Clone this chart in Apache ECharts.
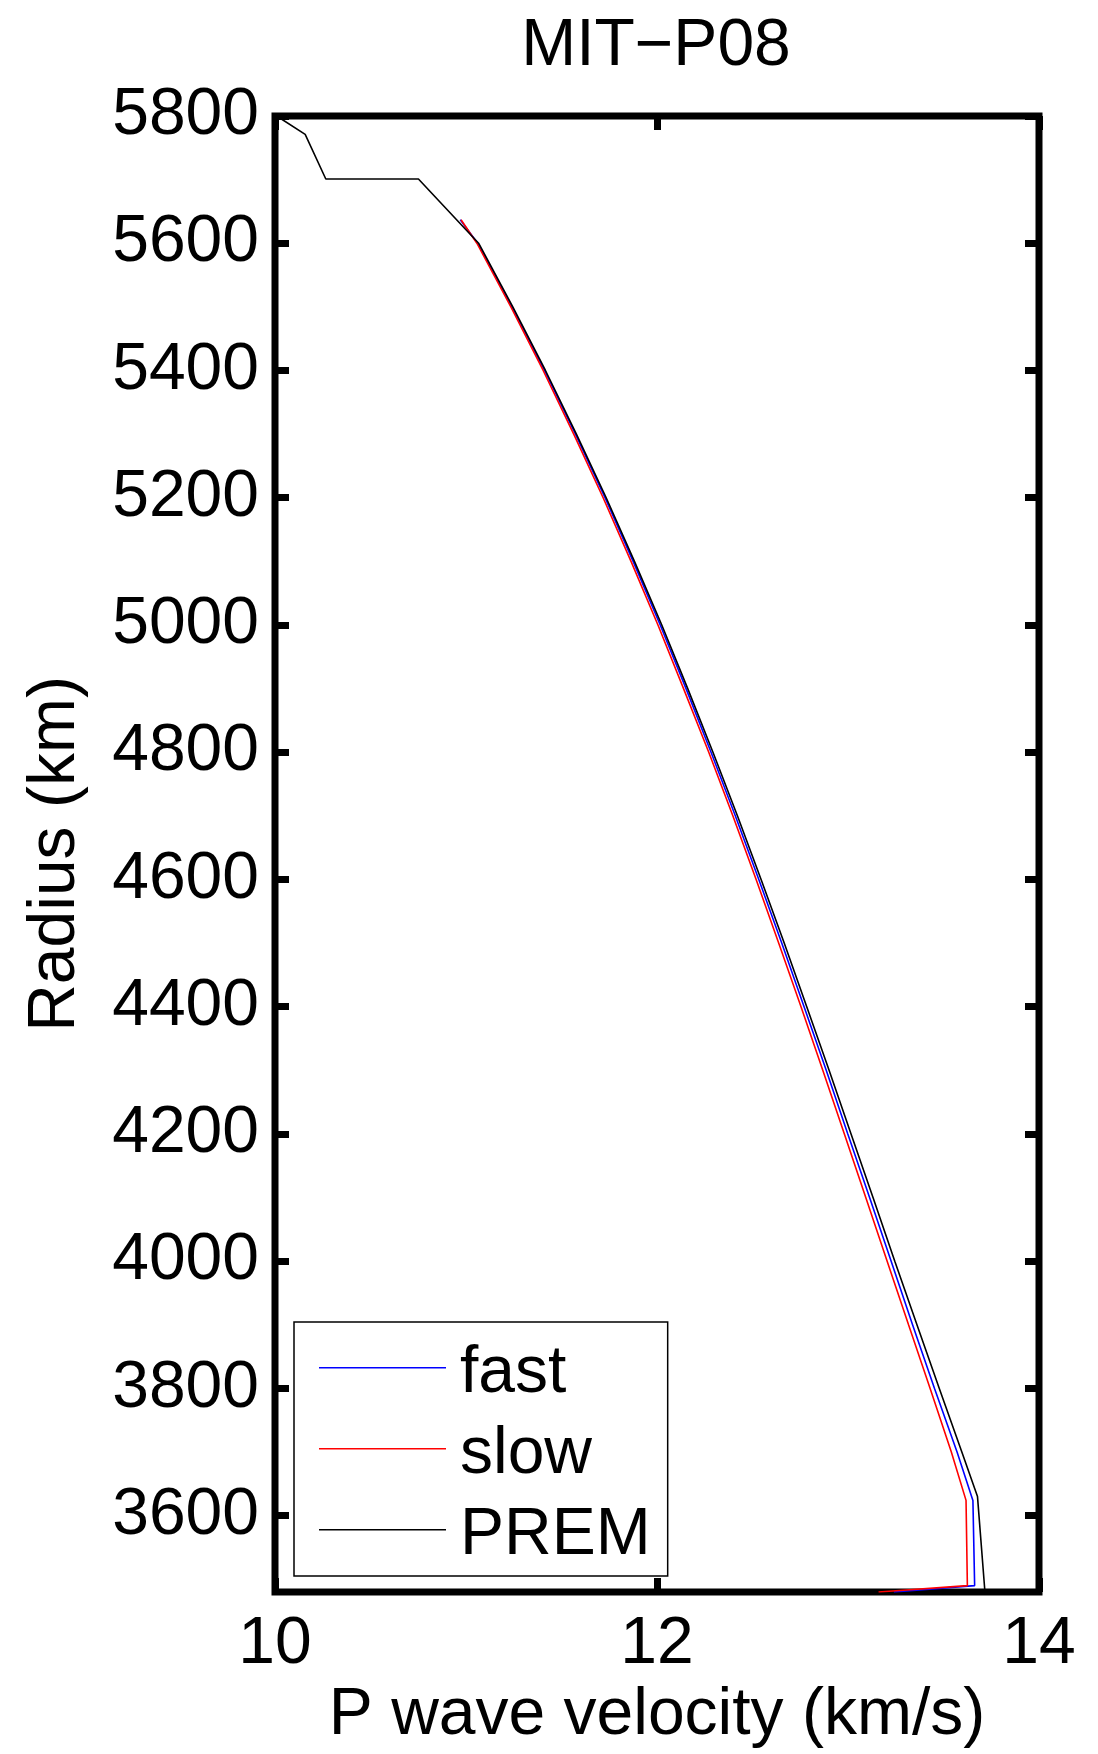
<!DOCTYPE html>
<html>
<head>
<meta charset="utf-8">
<script src="https://cdn.jsdelivr.net/npm/echarts@6/dist/echarts.min.js"></script>
<style>
html,body{margin:0;padding:0;background:#fff;}
#chart{width:1098px;height:1754px;}
</style>
</head>
<body>
<div id="chart"></div>
<script>
const titleText = 'MIT\u2212P08';
const xTicks = [10, 12, 14];
const yTicks = [3600, 3800, 4000, 4200, 4400, 4600, 4800, 5000, 5200, 5400, 5600, 5800];

const radiusPREM = [5800, 5771, 5701, 5701, 5600, 5500, 5400, 5300, 5200, 5100, 5000, 4900, 4800, 4700, 4600, 4500, 4400, 4300, 4200, 4100, 4000, 3900, 3800, 3700, 3630, 3480];
const vpPREM = [10.009, 10.158, 10.266, 10.751, 11.066, 11.245, 11.416, 11.578, 11.734, 11.882, 12.025, 12.161, 12.293, 12.421, 12.545, 12.666, 12.784, 12.901, 13.016, 13.131, 13.245, 13.361, 13.478, 13.596, 13.678, 13.717];

const radiusModel = [5637, 5600, 5500, 5400, 5300, 5200, 5100, 5000, 4900, 4800, 4700, 4600, 4500, 4400, 4300, 4200, 4100, 4000, 3900, 3800, 3700, 3624, 3490, 3480];
const vpFast = [10.970, 11.061, 11.241, 11.411, 11.573, 11.728, 11.875, 12.017, 12.152, 12.283, 12.410, 12.533, 12.653, 12.770, 12.886, 12.999, 13.113, 13.226, 13.338, 13.453, 13.571, 13.654, 13.663, 13.24];
const vpSlow = [10.974, 11.057, 11.235, 11.404, 11.564, 11.718, 11.864, 12.005, 12.139, 12.271, 12.397, 12.519, 12.637, 12.754, 12.868, 12.981, 13.093, 13.205, 13.317, 13.430, 13.541, 13.618, 13.625, 13.16];

const FONT = 'Liberation Sans';
const FS = 66;

function pairs(xs, ys) { return xs.map((x, i) => [x, ys[i]]); }

const chart = echarts.init(document.getElementById('chart'), null, {renderer: 'canvas'});
const hiddenLabel = {show: false};
const tickStyle = {show: true, inside: true, length: 14, lineStyle: {color: '#000', width: 7}};
// legend line sits at the top of a 127x14 icon box (degenerate subpath keeps the box height)
const legendIcon = 'path://M0,0 L127,0 L127,1.6 L0,1.6 Z M0,14 L0,14 Z';

chart.setOption({
  backgroundColor: '#fff',
  animation: false,
  title: {
    text: titleText,
    left: 651, top: 9,
    textAlign: 'center',
    textStyle: {fontFamily: FONT, fontSize: FS, fontWeight: 'normal', color: '#000'}
  },
  grid: {
    left: 275, right: 59, top: 116, bottom: 158,
    show: true, borderColor: '#000', borderWidth: 7, backgroundColor: 'transparent'
  },
  legend: {
    orient: 'vertical',
    left: 294, top: 1322,
    padding: [19, 17, 7, 25],
    itemWidth: 127, itemHeight: 14, itemGap: 15,
    icon: legendIcon,
    borderColor: '#000', borderWidth: 1.5, backgroundColor: '#fff',
    data: ['fast', 'slow', 'PREM'],
    textStyle: {fontFamily: FONT, fontSize: FS, color: '#000', lineHeight: 66, padding: [0, 0, 0, 9]}
  },
  xAxis: [{
    type: 'value', min: 10, max: 14, interval: 2,
    name: 'P wave velocity (km/s)', nameLocation: 'middle', nameGap: 91,
    nameTextStyle: {fontFamily: FONT, fontSize: FS, color: '#000'},
    axisLine: {show: false},
    axisTick: tickStyle,
    splitLine: {show: false},
    axisLabel: {fontFamily: FONT, fontSize: FS, color: '#000', margin: 20,
      customValues: xTicks, formatter: v => String(v)}
  }, {
    type: 'value', min: 10, max: 14, interval: 2, position: 'top',
    axisLine: {show: false}, axisTick: tickStyle, splitLine: {show: false}, axisLabel: hiddenLabel
  }],
  yAxis: [{
    type: 'value', min: 3480, max: 5800,
    name: 'Radius (km)', nameLocation: 'middle', nameGap: 186, nameRotate: 90,
    nameTextStyle: {fontFamily: FONT, fontSize: FS, color: '#000'},
    axisLine: {show: false},
    axisTick: Object.assign({}, tickStyle, {customValues: yTicks}),
    splitLine: {show: false},
    axisLabel: {fontFamily: FONT, fontSize: FS, color: '#000', margin: 16,
      customValues: yTicks, formatter: v => String(v)}
  }, {
    type: 'value', min: 3480, max: 5800, position: 'right',
    axisLine: {show: false},
    axisTick: Object.assign({}, tickStyle, {customValues: yTicks}),
    splitLine: {show: false}, axisLabel: hiddenLabel
  }],
  series: [
    {name: 'fast', type: 'line', data: pairs(vpFast, radiusModel), showSymbol: false, symbol: 'none',
     lineStyle: {color: '#0000ff', width: 1.6}, itemStyle: {color: '#0000ff'}},
    {name: 'slow', type: 'line', data: pairs(vpSlow, radiusModel), showSymbol: false, symbol: 'none',
     lineStyle: {color: '#ff0000', width: 1.6}, itemStyle: {color: '#ff0000'}},
    {name: 'PREM', type: 'line', data: pairs(vpPREM, radiusPREM), showSymbol: false, symbol: 'none',
     lineStyle: {color: '#000000', width: 1.6}, itemStyle: {color: '#000000'}}
  ]
});
</script>
</body>
</html>
